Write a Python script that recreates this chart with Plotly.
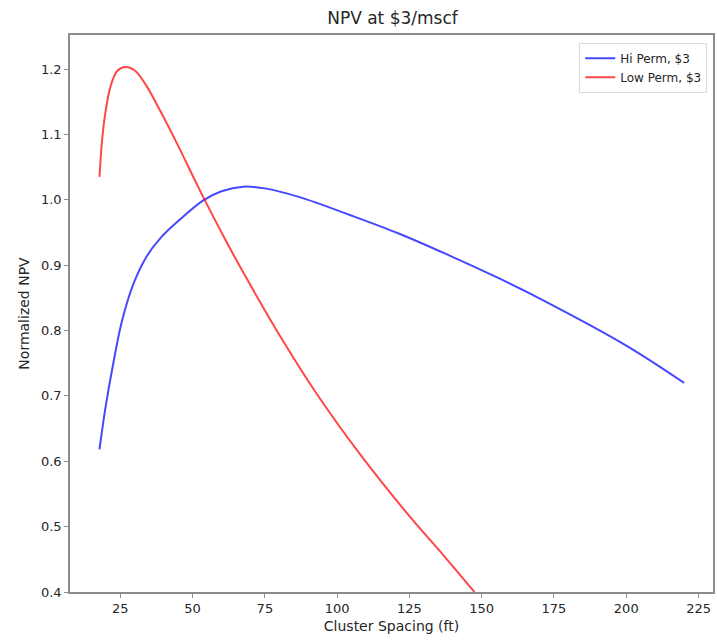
import plotly.graph_objects as go

# Cluster spacing (ft) and normalized NPV, high-permeability case
hi_x = [17.8, 19.8, 22.7, 25.6, 29.6, 34.2, 38.8, 45.7, 53.7, 60.0, 67.5,
        75.5, 87.0, 104.2, 121.5, 138.7, 155.9, 173.1, 200.0, 220.0]
hi_y = [0.618, 0.680, 0.753, 0.815, 0.872, 0.914, 0.941, 0.970, 0.999, 1.013,
        1.020, 1.017, 1.004, 0.977, 0.948, 0.915, 0.880, 0.842, 0.777, 0.720]

# Low-permeability case
low_x = [17.8, 18.7, 19.8, 21.6, 23.9, 26.7, 30.2, 34.2, 38.8, 44.5, 53.7,
         61.8, 69.8, 81.3, 92.8, 107.7, 125.0, 137.0, 147.5]
low_y = [1.035, 1.091, 1.132, 1.173, 1.197, 1.203, 1.197, 1.173, 1.136, 1.087,
         1.004, 0.935, 0.871, 0.784, 0.704, 0.612, 0.516, 0.455, 0.400]

x_ticks = [25, 50, 75, 100, 125, 150, 175, 200, 225]
y_ticks = [0.4, 0.5, 0.6, 0.7, 0.8, 0.9, 1.0, 1.1, 1.2]

FONT = "DejaVu Sans"
TXT = "#262626"
SPINE = "#8c8c8c"

fig = go.Figure()
fig.add_trace(go.Scatter(
    x=hi_x, y=hi_y, mode="lines", name="Hi Perm, $3",
    line=dict(color="rgba(0,0,255,0.72)", width=2, shape="spline", smoothing=1.0),
))
fig.add_trace(go.Scatter(
    x=low_x, y=low_y, mode="lines", name="Low Perm, $3",
    line=dict(color="rgba(255,0,0,0.72)", width=2, shape="spline", smoothing=1.0),
))

axis_common = dict(
    showgrid=False, zeroline=False,
    showline=True, linecolor=SPINE, linewidth=1.5, mirror=True,
    ticks="outside", ticklen=4, tickwidth=1, tickcolor=SPINE,
    tickfont=dict(family=FONT, size=13, color=TXT),
)

fig.update_layout(
    width=717, height=641,
    margin=dict(l=70, r=2, t=35, b=49),
    paper_bgcolor="white", plot_bgcolor="white",
    font=dict(family=FONT, color=TXT),
    title=dict(text="NPV at $3/mscf", x=(70 + 715) / 2 / 717, xanchor="center",
               y=1 - 18 / 641, yanchor="middle",
               font=dict(family=FONT, size=17, color=TXT)),
    xaxis=dict(range=[7.6, 230.0], tickvals=x_ticks,
               title=dict(text="Cluster Spacing (ft)", standoff=6,
                          font=dict(family=FONT, size=14, color=TXT)),
               **axis_common),
    yaxis=dict(range=[0.4, 1.252], tickvals=y_ticks, tickformat=".1f",
               title=dict(text="Normalized NPV", standoff=8,
                          font=dict(family=FONT, size=14, color=TXT)),
               **axis_common),
    legend=dict(x=0.991, y=0.986, xanchor="right", yanchor="top",
                bgcolor="rgba(255,255,255,0.8)", bordercolor="#dcdcdc", borderwidth=1,
                font=dict(family=FONT, size=12, color=TXT),
                itemwidth=30, tracegroupgap=0),
    showlegend=True,
)

fig.write_html("out.html")
